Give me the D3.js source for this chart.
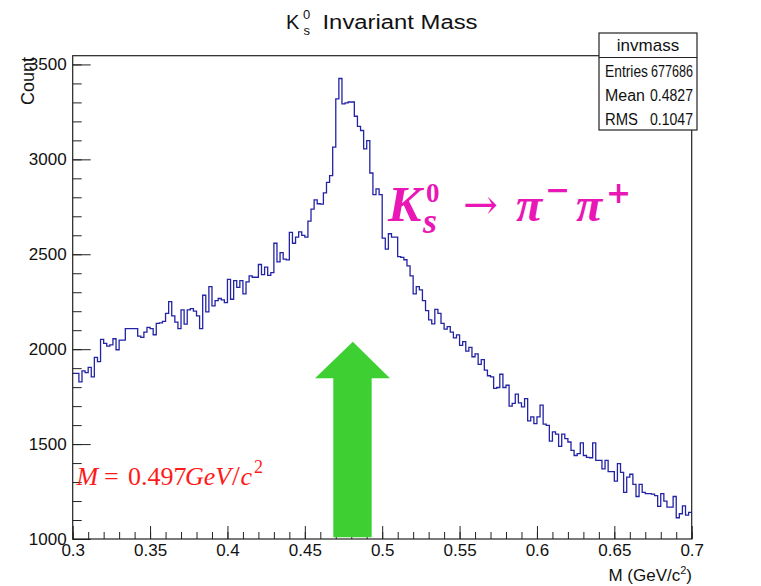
<!DOCTYPE html>
<html>
<head>
<meta charset="utf-8">
<script src="https://cdn.jsdelivr.net/npm/d3@7"></script>
<style>
  html, body { margin: 0; padding: 0; background: #fff; }
  svg { display: block; }
</style>
</head>
<body>
<svg id="chart" width="761" height="586"></svg>
<script>
// ---------------- data ----------------
const histName = "invmass";
const xRange = [0.3, 0.7];
const binWidth = 0.002;
const counts = [
  1872,1872,1828,1886,1876,1904,1854,1957,1934,2052,
  2031,2016,2023,2055,1997,2048,2048,2108,2108,2108,
  2108,2069,2062,2090,2115,2108,2076,2136,2139,2146,
  2189,2250,2175,2143,2108,2207,2132,2207,2214,2200,
  2175,2108,2284,2196,2330,2228,2256,2267,2260,2245,
  2368,2263,2361,2326,2361,2291,2354,2386,2379,2379,
  2446,2393,2432,2389,2403,2558,2460,2509,2474,2470,
  2615,2558,2590,2618,2600,2590,2675,2738,2787,2766,
  2764,2823,2879,2914,3064,3319,3426,3292,3297,3302,
  3302,3227,3174,3152,3055,3099,2928,2814,2844,2814,
  2585,2527,2608,2590,2590,2488,2484,2471,2439,2386,
  2291,2330,2312,2256,2203,2154,2133,2210,2189,2136,
  2106,2119,2090,2060,2075,2020,2040,1990,2010,1960,
  1975,1920,1945,1890,1860,1854,1793,1798,1868,1798,
  1810,1700,1714,1763,1717,1696,1740,1622,1643,1608,
  1643,1705,1605,1599,1516,1564,1552,1488,1552,1529,
  1511,1467,1440,1450,1506,1440,1430,1428,1506,1414,
  1414,1369,1414,1355,1355,1305,1397,1351,1246,1326,
  1341,1288,1224,1288,1246,1239,1239,1236,1229,1172,
  1239,1200,1168,1168,1224,1112,1133,1175,1126,1140
];
const yDomain = [1000, 3546];
const xTicks = [0.3, 0.35, 0.4, 0.45, 0.5, 0.55, 0.6, 0.65, 0.7];
const xTickLabels = ["0.3","0.35","0.4","0.45","0.5","0.55","0.6","0.65","0.7"];
const yTicks = [1000, 1500, 2000, 2500, 3000, 3500];
const yTickLabels = ["1000","1500","2000","2500","3000","3500"];
const statsLabels = ["Entries", "Mean", "RMS"];
const statsValues = ["677686", "0.4827", "0.1047"];
// arrow annotation in data coordinates: [mass, count]
const arrowShaft = [0.4684, 0.4932];
const arrowHead = [0.4566, 0.505];
const arrowTipX = 0.481;
const arrowLevels = { tip: 2039, headBase: 1847, bottom: 1009 };

// ---------------- layout ----------------
const svg = d3.select("#chart");
const frame = { left: 72.7, right: 691.7, top: 55.7, bottom: 539 };
const FONT = "'Liberation Sans', Arial, Helvetica, sans-serif";
const SERIF = "'Liberation Serif', 'DejaVu Serif', serif";
const MATH = "'DejaVu Serif', serif";

const x = d3.scaleLinear().domain(xRange).range([frame.left, frame.right]);
const y = d3.scaleLinear().domain(yDomain).range([frame.bottom, frame.top]);

const xMinor = d3.range(0, 41).map(i => +(xRange[0] + i * 0.01).toFixed(3));
const yMinor = d3.range(0, 26).map(i => 1000 + i * 100).filter(v => v <= yDomain[1]);

// y axis
const gy = svg.append("g").attr("transform", `translate(${frame.left},0)`);
gy.call(d3.axisLeft(y).tickValues(yMinor).tickSizeInner(-9).tickSizeOuter(0).tickFormat(""));
gy.append("g").call(d3.axisLeft(y).tickValues(yTicks).tickSizeInner(-18).tickSizeOuter(0).tickPadding(6)
  .tickFormat((d, i) => yTickLabels[i]));
gy.selectAll(".domain").remove();
gy.selectAll("line").attr("stroke", "#222").attr("stroke-width", 1);
gy.selectAll("text").attr("font-family", FONT).attr("font-size", 17).attr("fill", "#111");

// x axis
const gx = svg.append("g").attr("transform", `translate(0,${frame.bottom})`);
gx.call(d3.axisBottom(x).tickValues(xMinor).tickSizeInner(-7).tickSizeOuter(0).tickFormat(""));
gx.append("g").call(d3.axisBottom(x).tickValues(xTicks).tickSizeInner(-13).tickSizeOuter(0).tickPadding(5)
  .tickFormat((d, i) => xTickLabels[i]));
gx.selectAll(".domain").remove();
gx.selectAll("line").attr("stroke", "#222").attr("stroke-width", 1);
gx.selectAll("text").attr("font-family", FONT).attr("font-size", 17).attr("fill", "#111");

// histogram step outline
const pts = counts.map((c, i) => [xRange[0] + i * binWidth, c]);
pts.push([xRange[0] + counts.length * binWidth, counts[counts.length - 1]]);
const line = d3.line().x(d => x(d[0])).y(d => y(d[1])).curve(d3.curveStepAfter);
svg.append("path").datum(pts)
  .attr("d", line)
  .attr("fill", "none")
  .attr("stroke", "#2323a6")
  .attr("stroke-width", 1.3);

// frame
svg.append("rect")
  .attr("x", frame.left).attr("y", frame.top)
  .attr("width", frame.right - frame.left).attr("height", frame.bottom - frame.top)
  .attr("fill", "none").attr("stroke", "#222").attr("stroke-width", 1.2);

// green arrow
const arrowPts = [
  [arrowShaft[0], arrowLevels.bottom],
  [arrowShaft[0], arrowLevels.headBase],
  [arrowHead[0], arrowLevels.headBase],
  [arrowTipX, arrowLevels.tip],
  [arrowHead[1], arrowLevels.headBase],
  [arrowShaft[1], arrowLevels.headBase],
  [arrowShaft[1], arrowLevels.bottom]
];
svg.append("path")
  .attr("d", d3.line().x(d => x(d[0])).y(d => y(d[1]))(arrowPts) + "Z")
  .attr("fill", "#3ecf33");

// title (single text element with positioned tspans)
const title = svg.append("text").attr("font-family", FONT).attr("fill", "#111").attr("font-size", 20);
title.append("tspan").attr("x", 286).attr("y", 29.3).text("K");
title.append("tspan").attr("x", 303).attr("y", 18.5).attr("font-size", 13).text("0");
title.append("tspan").attr("x", 303.5).attr("y", 35).attr("font-size", 13).text("s");
title.append("tspan").attr("x", 322.5).attr("y", 29.3)
  .attr("textLength", 155).attr("lengthAdjust", "spacingAndGlyphs").text("Invariant Mass");

// y title
svg.append("text")
  .attr("transform", `translate(34,57) rotate(-90)`)
  .attr("text-anchor", "end")
  .attr("font-family", FONT).attr("font-size", 18).attr("fill", "#111")
  .text("Count");

// x title
const xt = svg.append("text")
  .attr("x", 692).attr("y", 581)
  .attr("text-anchor", "end")
  .attr("font-family", FONT).attr("font-size", 17).attr("fill", "#111");
xt.append("tspan").text("M (GeV/c");
xt.append("tspan").attr("dy", -7).attr("font-size", 11).text("2");
xt.append("tspan").attr("dy", 7).text(")");

// stats box
const sb = { x0: 599, x1: 697, y0: 33, y1: 130, sep: 57.5 };
const stats = svg.append("g").attr("font-family", FONT).attr("fill", "#111");
stats.append("rect")
  .attr("x", sb.x0).attr("y", sb.y0).attr("width", sb.x1 - sb.x0).attr("height", sb.y1 - sb.y0)
  .attr("fill", "#fff").attr("stroke", "#222").attr("stroke-width", 1.2);
stats.append("line")
  .attr("x1", sb.x0).attr("x2", sb.x1).attr("y1", sb.sep).attr("y2", sb.sep)
  .attr("stroke", "#222").attr("stroke-width", 1);
stats.append("text").attr("x", (sb.x0 + sb.x1) / 2).attr("y", 51)
  .attr("text-anchor", "middle").attr("font-size", 17).text(histName);
const labelLen = [43, 40, 33];
const valueLen = [42, 43, 43];
statsLabels.forEach((lab, i) => {
  const yy = 77 + i * 24;
  stats.append("text").attr("x", 605).attr("y", yy).attr("font-size", 16)
    .attr("textLength", labelLen[i]).attr("lengthAdjust", "spacingAndGlyphs").text(lab);
  stats.append("text").attr("x", 693).attr("y", yy).attr("text-anchor", "end")
    .attr("font-size", 16).attr("textLength", valueLen[i]).attr("lengthAdjust", "spacingAndGlyphs")
    .text(statsValues[i]);
});

// magenta decay annotation (one text element, positioned tspans)
const MAG = "#e817b5";
const mag = svg.append("text").attr("fill", MAG).attr("font-family", SERIF)
  .attr("font-weight", "bold").attr("font-style", "italic");
mag.append("tspan").attr("x", 388).attr("y", 221).attr("font-size", 50).text("K");
mag.append("tspan").attr("x", 426).attr("y", 202).attr("font-size", 27).attr("font-style", "normal").text("0");
mag.append("tspan").attr("x", 423).attr("y", 233).attr("font-size", 36).text("s");
mag.append("tspan").attr("x", 463).attr("y", 219).attr("font-family", MATH).attr("font-weight", "normal")
  .attr("font-style", "normal").attr("font-size", 42)
  .attr("textLength", 35).attr("lengthAdjust", "spacingAndGlyphs").text("→");
mag.append("tspan").attr("x", 516).attr("y", 221).attr("font-size", 48).text("π");
mag.append("tspan").attr("x", 545).attr("y", 200).attr("font-family", MATH).attr("font-style", "normal")
  .attr("font-size", 30).text("−");
mag.append("tspan").attr("x", 576).attr("y", 221).attr("font-size", 48).text("π");
mag.append("tspan").attr("x", 606).attr("y", 203).attr("font-family", MATH).attr("font-style", "normal")
  .attr("font-size", 30).text("+");

// red mass annotation (one text element, positioned tspans)
const RED = "#ff1a1a";
const red = svg.append("text").attr("font-family", SERIF).attr("font-size", 26).attr("fill", RED);
red.append("tspan").attr("x", 76.5).attr("y", 485).attr("font-style", "italic").text("M");
red.append("tspan").attr("x", 104).attr("y", 485).text("=");
red.append("tspan").attr("x", 128).attr("y", 485).text("0.497");
red.append("tspan").attr("x", 185).attr("y", 485).attr("font-style", "italic").text("GeV");
red.append("tspan").attr("x", 232).attr("y", 485).attr("font-size", 28).text("/");
red.append("tspan").attr("x", 240.5).attr("y", 485).attr("font-style", "italic").text("c");
red.append("tspan").attr("x", 254).attr("y", 473).attr("font-size", 18).text("2");
</script>
</body>
</html>
